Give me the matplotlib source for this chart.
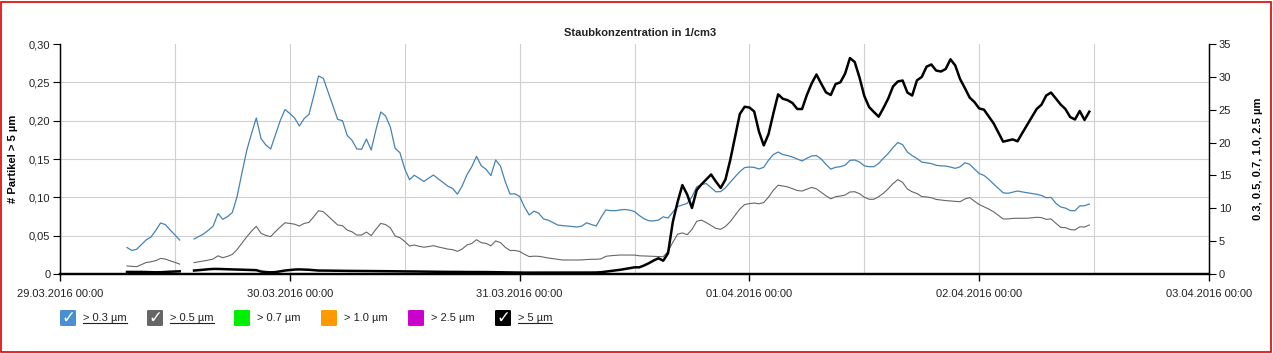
import numpy as np
import pandas as pd
import matplotlib
matplotlib.use("Agg")
import matplotlib.pyplot as plt
import matplotlib.dates as mdates
from matplotlib.patches import FancyBboxPatch, Rectangle
from matplotlib.lines import Line2D
from matplotlib.ticker import FixedLocator, FuncFormatter

plt.rcParams['font.family'] = ['Liberation Sans', 'DejaVu Sans']

nan = np.nan

# Messwerte alle 30 min ab 29.03.2016 07:00
start = '2016-03-29 07:00'

p03 = [4.03, 3.58, 3.76, 4.47, 5.19, 5.63, 6.62, 7.76, 7.52, 6.71, 5.93, 5.17, nan, nan,
       5.33, 5.71, 6.09, 6.67, 7.30, 9.21, 8.32, 8.73, 9.37, 11.82, 15.37, 18.79, 21.35, 23.74,
       20.59, 19.63, 19.02, 21.20, 23.34, 25.03, 24.42, 23.74, 22.52, 23.65, 24.29, 27.09, 30.13,
       29.78, 27.69, 25.56, 23.53, 23.33, 21.09, 20.34, 19.02, 18.98, 20.54, 18.87, 21.97, 24.65,
       24.06, 22.37, 19.13, 18.46, 16.02, 14.35, 15.03, 14.55, 14.09, 14.58, 15.06, 14.50, 13.92,
       13.36, 13.03, 12.14, 13.39, 15.10, 16.31, 17.91, 16.46, 15.93, 14.97, 17.36, 16.43, 14.05,
       12.17, 12.20, 11.81, 10.23, 8.98, 9.57, 9.25, 8.37, 8.19, 7.82, 7.44, 7.37, 7.29, 7.23,
       7.15, 7.30, 7.79, 7.53, 7.30, 8.60, 9.74, 9.65, 9.63, 9.75, 9.82, 9.71, 9.51, 8.90, 8.41,
       8.10, 8.08, 8.20, 8.70, 8.51, 9.43, 10.27, 10.50, 10.74, 11.76, 13.25, 13.63, 13.76, 13.13,
       12.51, 12.54, 13.12, 13.97, 14.79, 15.57, 16.19, 16.28, 16.22, 15.98, 16.24, 17.33, 18.18,
       18.56, 18.17, 18.02, 17.80, 17.50, 17.20, 17.61, 17.96, 18.02, 17.50, 16.68, 15.96, 16.24,
       16.33, 16.56, 17.29, 17.35, 17.04, 16.46, 16.33, 16.33, 16.83, 17.62, 18.34, 19.25, 20.01,
       19.68, 18.56, 18.02, 17.58, 17.03, 16.92, 16.80, 16.54, 16.46, 16.43, 16.27, 16.08, 16.31,
       16.92, 16.71, 15.98, 15.29, 15.00, 14.40, 13.70, 13.03, 12.36, 12.28, 12.45, 12.63, 12.49,
       12.37, 12.25, 12.13, 11.95, 11.60, 11.66, 10.77, 10.21, 10.03, 9.66, 9.62, 10.36, 10.39,
       10.65]

p05 = [1.22, 1.16, 1.11, 1.43, 1.75, 1.86, 2.04, 2.37, 2.27, 2.01, 1.77, 1.51, nan, nan,
       1.73, 1.86, 1.98, 2.12, 2.28, 2.77, 2.48, 2.69, 2.98, 3.73, 4.69, 5.66, 6.51, 7.26,
       6.19, 5.87, 5.69, 6.45, 7.15, 7.79, 7.70, 7.58, 7.30, 7.70, 7.85, 8.72, 9.63,
       9.48, 8.80, 8.11, 7.46, 7.35, 6.68, 6.42, 5.93, 5.93, 6.38, 5.84, 6.82, 7.70,
       7.52, 7.02, 5.78, 5.52, 4.96, 4.26, 4.41, 4.22, 4.08, 4.18, 4.31, 4.12, 3.96,
       3.79, 3.71, 3.44, 3.80, 4.41, 4.64, 5.22, 4.76, 4.66, 4.29, 5.04, 4.78, 4.06,
       3.58, 3.58, 3.44, 3.01, 2.65, 2.71, 2.69, 2.57, 2.43, 2.33, 2.22, 2.13, 2.13, 2.13,
       2.13, 2.15, 2.19, 2.24, 2.24, 2.30, 2.69, 2.78, 2.83, 2.89, 2.89, 2.89, 2.88, 2.77, 2.74,
       2.71, 2.68, 2.66, 2.63, 3.44, 4.82, 6.06, 6.25, 5.98, 6.77, 8.02, 8.20, 7.82, 7.38,
       6.94, 6.80, 7.24, 7.96, 8.92, 9.89, 10.56, 10.71, 10.80, 10.68, 10.88, 11.70, 12.74,
       13.51, 13.39, 13.25, 12.98, 12.71, 12.63, 12.90, 13.18, 12.96, 12.43, 11.90, 11.44, 11.76,
       11.87, 12.02, 12.48, 12.52, 12.22, 11.69, 11.37, 11.37, 11.76, 12.30, 12.98, 13.76, 14.36,
       13.94, 12.93, 12.51, 12.25, 11.79, 11.72, 11.61, 11.35, 11.26, 11.17, 11.11, 11.06, 11.00,
       11.41, 11.63, 11.08, 10.58, 10.23, 9.88, 9.47, 8.93, 8.38, 8.38, 8.46, 8.48, 8.48,
       8.48, 8.55, 8.63, 8.58, 8.31, 8.38, 7.73, 7.11, 7.05, 6.76, 6.70, 7.18, 7.15,
       7.46]

p5 = [0.0027, 0.0027, 0.0027, 0.0027, 0.0025, 0.0022, 0.0022, 0.0023, 0.0027, 0.0030, 0.0033, 0.0035, nan, nan,
      0.0045, 0.0050, 0.0056, 0.0062, 0.0066, 0.0066, 0.0064, 0.0062, 0.0060, 0.0058, 0.0056, 0.0054, 0.0052, 0.0050,
      0.0032, 0.0025, 0.0022, 0.0025, 0.0035, 0.0045, 0.0052, 0.0058, 0.0060, 0.0058, 0.0055, 0.0050, 0.0045,
      0.0045, 0.0044, 0.0043, 0.0042, 0.0042, 0.0041, 0.0040, 0.0040, 0.0039, 0.0039,
      0.0038, 0.0038, 0.0037, 0.0037, 0.0036, 0.0035, 0.0035, 0.0034, 0.0034, 0.0033,
      0.0032, 0.0031, 0.0030, 0.0030, 0.0029, 0.0028, 0.0028, 0.0027, 0.0027, 0.0026,
      0.0026, 0.0026, 0.0027, 0.0026, 0.0025, 0.0024, 0.0024, 0.0023, 0.0022, 0.0021,
      0.0020, 0.0019, 0.0018, 0.0018, 0.0018, 0.0017, 0.0017, 0.0017, 0.0017, 0.0017,
      0.0017, 0.0017, 0.0017, 0.0017, 0.0018, 0.0018, 0.0019, 0.0020, 0.0023, 0.0031,
      0.0039, 0.0047, 0.0055, 0.0065, 0.0076, 0.0087, 0.0087, 0.0111, 0.0141, 0.0176,
      0.0205, 0.0173, 0.0270, 0.0678, 0.0939, 0.1160, 0.1037, 0.0861, 0.1096, 0.1170,
      0.1233, 0.1298, 0.1206, 0.1122, 0.1233, 0.1487, 0.1787, 0.2087, 0.2181, 0.2172,
      0.2120, 0.1857, 0.1677, 0.1826, 0.2093, 0.2343, 0.2285, 0.2267, 0.2230, 0.2152,
      0.2152, 0.2335, 0.2485, 0.2602, 0.2483, 0.2369, 0.2335, 0.2478, 0.2500, 0.2615,
      0.2817, 0.2765, 0.2563, 0.2322, 0.2178, 0.2113, 0.2052, 0.2165, 0.2289, 0.2446,
      0.2511, 0.2524, 0.2367, 0.2328, 0.2526, 0.2570, 0.2704, 0.2733, 0.2654, 0.2641,
      0.2674, 0.2800, 0.2720, 0.2543, 0.2426, 0.2302, 0.2243, 0.2159, 0.2143, 0.2054,
      0.1966, 0.1846, 0.1726, 0.1741, 0.1756, 0.1731, 0.1839, 0.1943, 0.2048, 0.2152,
      0.2208, 0.2328, 0.2367, 0.2289, 0.2212, 0.2152, 0.2048, 0.2015, 0.2126, 0.2009,
      0.2117]

t = pd.date_range(start, periods=len(p03), freq='30min')

left_ticks = [0, 0.05, 0.10, 0.15, 0.20, 0.25, 0.30]
right_ticks = [0, 5, 10, 15, 20, 25, 30, 35]

legend_labels = ['> 0.3 µm', '> 0.5 µm', '> 0.7 µm', '> 1.0 µm', '> 2.5 µm', '> 5 µm']
legend_colors = ['#4a8fd4', '#666666', '#00ee00', '#ff9900', '#cc00cc', '#000000']
legend_checked = [True, True, False, False, False, True]

W, H = 1273, 353
fig = plt.figure(figsize=(W / 100, H / 100), dpi=100)
fig.patch.set_facecolor('white')

ax = fig.add_axes([60 / W, 1 - 274 / H, (1209 - 60) / W, (274 - 44) / H])
ax2 = ax.twinx()

# ax: 0.3 / 0.5 µm, Skala rechts
ax.plot(t, p03, color='#4682b4', lw=0.9, zorder=3)
ax.plot(t, p05, color='#666666', lw=0.8, zorder=3)
ax.set_ylim(0, 35)
ax.yaxis.tick_right()
ax.yaxis.set_label_position('right')
ax.set_yticks(right_ticks)
ax.yaxis.set_minor_locator(FixedLocator(np.array(left_ticks) * 35 / 0.30))
ax.set_ylabel('0.3, 0.5, 0.7, 1.0, 2.5 µm', fontsize=8, fontweight='bold', labelpad=16)
ax.yaxis.label.set_rotation(90)

# ax2: > 5 µm, Skala links
ax2.plot(t, p5, color='black', lw=1.8, zorder=4)
ax2.set_ylim(0, 0.30)
ax2.yaxis.tick_left()
ax2.yaxis.set_label_position('left')
ax2.set_yticks(left_ticks)
ax2.yaxis.set_major_formatter(FuncFormatter(lambda v, p: '0' if v == 0 else f'{v:.2f}'.replace('.', ',')))
ax2.set_ylabel('# Partikel > 5 µm', fontsize=8, fontweight='bold', labelpad=8)

ax.set_xlim(pd.Timestamp('2016-03-29'), pd.Timestamp('2016-04-03'))
ax.xaxis.set_major_locator(mdates.DayLocator())
ax.xaxis.set_minor_locator(mdates.HourLocator(byhour=[12]))
ax.xaxis.set_major_formatter(mdates.DateFormatter('%d.%m.%Y %H:%M'))

ax.grid(axis='x', which='both', color='#d0d0d0', lw=0.8)
ax.grid(axis='y', which='minor', color='#d0d0d0', lw=0.8)
ax.grid(axis='y', which='major', visible=False)
ax.set_axisbelow(True)

for a in (ax, ax2):
    a.spines['top'].set_visible(False)
    a.spines['left'].set_color('black')
    a.spines['right'].set_color('black')
    a.spines['bottom'].set_color('black')
    a.spines['bottom'].set_linewidth(1.6)
    a.spines['left'].set_linewidth(0.9)
    a.spines['right'].set_linewidth(0.9)
ax.tick_params(axis='x', which='major', length=5, width=1, labelsize=8, labelcolor='#222222', pad=6)
ax.tick_params(axis='x', which='minor', length=0)
ax.tick_params(axis='y', which='major', length=5, width=0.8, labelsize=8, labelcolor='#222222', pad=2)
ax.tick_params(axis='y', which='minor', length=0)
ax2.tick_params(axis='y', length=5, width=0.8, labelsize=8, labelcolor='#222222', pad=2)

fig.text(640 / W, 1 - 33 / H, 'Staubkonzentration in 1/cm3', ha='center', va='center',
         fontsize=8, fontweight='bold', color='#222222')

# Legende
yc = 1 - 318 / H
bw, bh = 16 / W, 16 / H
texts = []
for k, (lab, col, chk) in enumerate(zip(legend_labels, legend_colors, legend_checked)):
    x0 = (60 + k * 87) / W
    fig.add_artist(FancyBboxPatch((x0, yc - bh / 2), bw, bh, boxstyle='round,pad=0,rounding_size=0.002',
                                  transform=fig.transFigure, facecolor=col, edgecolor='none'))
    if chk:
        fig.text(x0 + bw / 2, yc, '✓', ha='center', va='center', color='white', fontsize=12,
                 fontweight='bold', family='DejaVu Sans')
    tx = fig.text(x0 + 23 / W, yc, lab, ha='left', va='center', fontsize=8, color='#222222')
    texts.append((tx, chk))

fig.canvas.draw()
r = fig.canvas.get_renderer()
for tx, chk in texts:
    if chk:
        bb = tx.get_window_extent(r).transformed(fig.transFigure.inverted())
        fig.add_artist(Line2D([bb.x0, bb.x1], [bb.y0 + 0.2 / H, bb.y0 + 0.2 / H],
                              transform=fig.transFigure, color='#222222', lw=0.8))

# roter Rahmen
fig.add_artist(Rectangle((0.5 / W, 1.5 / H), 1 - 3 / W, 1 - 3 / H, transform=fig.transFigure,
                         fill=False, edgecolor='#e00000', lw=1.2))

fig.savefig('out.png', dpi=100)
